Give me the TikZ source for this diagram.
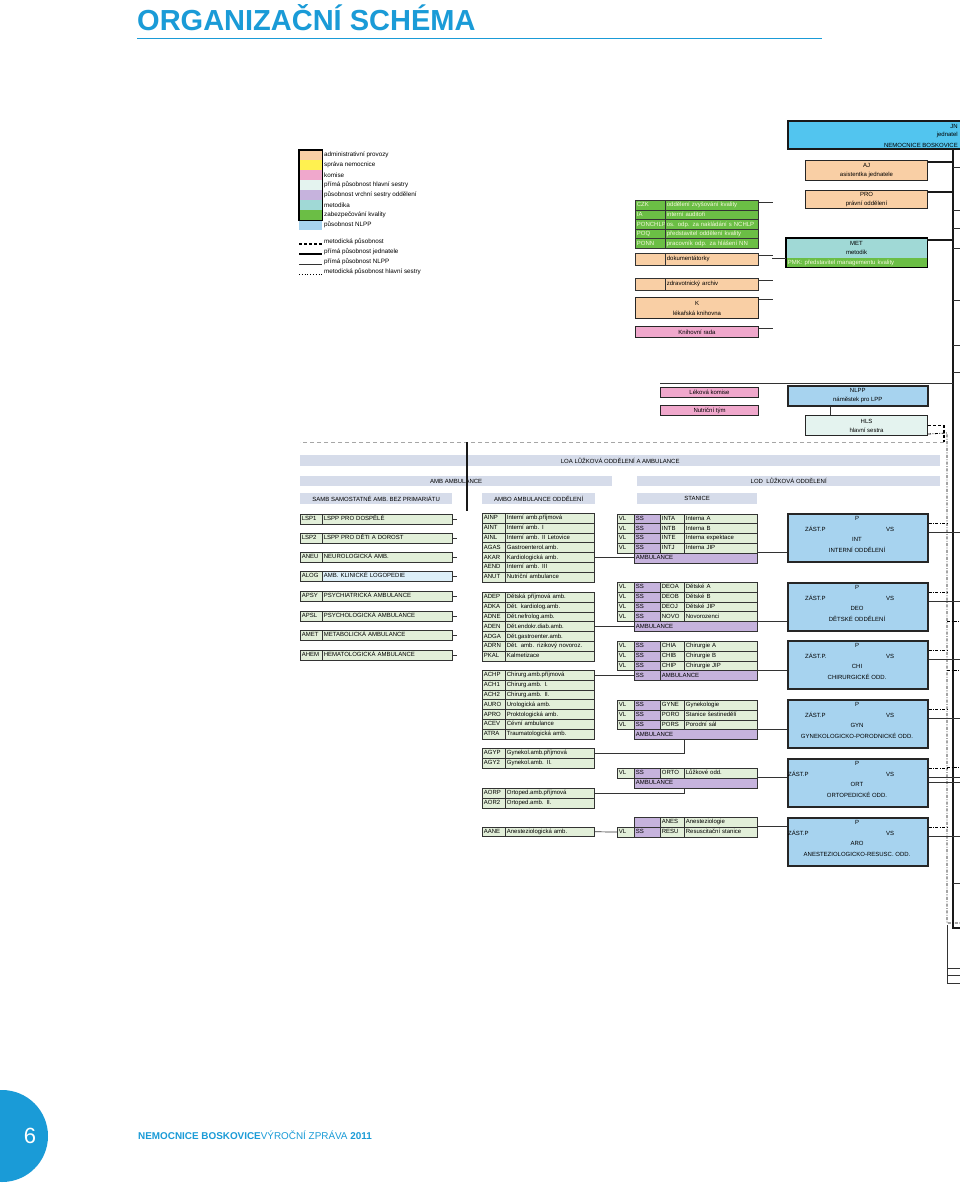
\documentclass[tikz,border=0pt]{standalone}
\usepackage{fontspec}
\setmainfont{Liberation Sans}
\usetikzlibrary{positioning, calc}

\definecolor{titleblue}{HTML}{1A9BD7}
\definecolor{peach}{HTML}{F9CFA5}
\definecolor{mgmtyellow}{HTML}{FFF150}
\definecolor{compink}{HTML}{F0A8CC}
\definecolor{hlsfill}{HTML}{E4F3EF}
\definecolor{lavender}{HTML}{C6B3DD}
\definecolor{metteal}{HTML}{A0D9D6}
\definecolor{qgreen}{HTML}{6BBE45}
\definecolor{qtext}{HTML}{F4F8DC}
\definecolor{pblue}{HTML}{A7D3EF}
\definecolor{jnblue}{HTML}{52C5EF}
\definecolor{rowgreen}{HTML}{E2EFD9}
\definecolor{barblue}{HTML}{D6DCEA}
\definecolor{alogblue}{HTML}{DDEFF8}

\newcommand{\tinyfont}{\fontsize{6}{7}\selectfont}
\newcommand{\legfont}{\fontsize{6.3}{7.5}\selectfont}

\tikzset{
  cell/.style={rectangle, draw=black!80, line width=0.7pt, fill=rowgreen,
    anchor=north west, inner xsep=1.5pt, inner ysep=0pt, minimum height=9.8pt,
    text height=4.3pt, text depth=1.2pt, font=\tinyfont, align=left, text width=#1},
  cell/.default=20pt,
  bar/.style={rectangle, fill=barblue, anchor=north west, minimum height=11pt,
    inner sep=0pt, font=\tinyfont},
  infobox/.style={rectangle, draw=black!85, line width=1pt, fill=peach,
    anchor=north west, inner sep=0pt, align=center, font=\tinyfont},
  pbox/.style={rectangle, draw=black!85, line width=1.5pt, fill=pblue,
    anchor=north west, minimum width=140pt, minimum height=48pt},
  ptext/.style={font=\tinyfont, inner sep=0pt},
  swatch/.style={rectangle, anchor=north west, minimum width=23pt,
    minimum height=10pt, inner sep=0pt},
  legtext/.style={anchor=west, inner sep=0pt, font=\legfont},
  thickline/.style={line width=1.6pt, black!90},
  thinline/.style={line width=0.7pt, black!80},
  methline/.style={line width=1.3pt, dash pattern=on 3pt off 2pt},
  nurseline/.style={line width=0.8pt, dash pattern=on 3pt off 1.5pt on 0.8pt off 1.5pt},
}

\begin{document}
\begin{tikzpicture}[x=1pt, y=-1pt]

  \useasboundingbox (0,0) rectangle (960,1184);
  \clip (0,0) rectangle (960,1184);
  \fill[white] (0,0) rectangle (960,1184);

  % Title
  \node[anchor=base west, inner sep=0pt, text=titleblue,
    font=\fontsize{29}{32}\selectfont\bfseries] (title) at (137,30) {ORGANIZAČNÍ SCHÉMA};
  \draw[titleblue, line width=1pt] (137,38) -- (822,38);

  % Legend
  \foreach \col/\txt [count=\i] in {peach/administrativní provozy,
      mgmtyellow/správa nemocnice, compink/komise,
      hlsfill/přímá působnost hlavní sestry,
      lavender/působnost vrchní sestry oddělení, metteal/metodika,
      qgreen/zabezpečování kvality, pblue/působnost NLPP} {
    \node[swatch, fill=\col] (leg-\i) at (299,{150+10*(\i-1)}) {};
    \node[legtext] (legt-\i) at (324,{155+10*(\i-1)}) {\txt};
  }
  \draw[line width=1.4pt] (leg-1.north west) rectangle (leg-7.south east);
  \draw[methline] (299,244) -- (322,244);
  \draw[line width=1.4pt] (299,254) -- (322,254);
  \draw[thinline] (299,264) -- (322,264);
  \draw[line width=0.8pt, dotted] (299,274) -- (322,274);
  \node[legtext] (legl-1) at (324,242) {metodická působnost};
  \node[legtext] (legl-2) at (324,252) {přímá působnost jednatele};
  \node[legtext] (legl-3) at (324,262) {přímá působnost NLPP};
  \node[legtext] (legl-4) at (324,272) {metodická působnost hlavní sestry};

  % Quality block and archive boxes
  \foreach \c/\t [count=\i] in {CZK/oddělení zvyšování kvality,
      IA/interní auditoři, PONCHLP/os. odp. za nakládání s NCHLP,
      POQ/představitel oddělení kvality, PONN/pracovník odp. za hlášení NN} {
    \node[cell=27pt, fill=qgreen, text=qtext] (q-\i) at (635,{200+9.6*(\i-1)}) {\c};
    \node[cell=90pt, fill=qgreen, text=qtext] (q-\i-t) at (665,{200+9.6*(\i-1)}) {\t};
  }
  \node[cell=27pt, fill=peach, minimum height=12pt] (dok-a) at (635,253) {};
  \node[cell=90pt, fill=peach, minimum height=12pt] (dok) at (665,253) {dokumentátorky};
  \node[cell=27pt, fill=peach, minimum height=12pt] (arch-a) at (635,278) {};
  \node[cell=90pt, fill=peach, minimum height=12pt] (arch) at (665,278) {zdravotnický archiv};
  \node[infobox, minimum width=123pt, minimum height=21pt] (kniha) at (635,297)
    {K\\[3pt]lékařská knihovna};
  \node[infobox, fill=compink, minimum width=123pt, minimum height=11pt] (rada) at (635,326)
    {Knihovní rada};
  \foreach \b in {q-1-t, dok, arch, kniha, rada}
    \draw[thinline] ([yshift=-2pt]\b.north east) -- ++(14,0);

  % Statutory body and staff
  \node[rectangle, draw=black!90, line width=1.6pt, fill=jnblue, anchor=north west,
    minimum width=343pt, minimum height=28pt] (jn) at (787,120) {};
  \node[ptext, anchor=east] (jn-1) at (958,126) {JN};
  \node[ptext, anchor=east] (jn-2) at (958,135) {jednatel};
  \node[ptext, anchor=east] (jn-3) at (958,145) {NEMOCNICE BOSKOVICE};
  \node[infobox, minimum width=122pt, minimum height=20pt] (aj) at (805,160)
    {AJ\\[2pt]asistentka jednatele};
  \node[infobox, minimum width=122pt, minimum height=18pt] (pro) at (805,190)
    {PRO\\[2pt]právní oddělení};
  \node[infobox, fill=metteal, line width=0pt, draw=none, minimum width=141pt,
    minimum height=20pt] (met) at (786,238) {MET\\[2pt]metodik};
  \node[cell=138pt, fill=qgreen, text=qtext, minimum height=9pt, draw=none] (pmk) at (786,258)
    {PMK: představitel managementu kvality};
  \draw[line width=1.5pt] (met.north west) rectangle (pmk.south east);
  \draw[thinline] (met.west |- pmk.north) -- ++(-14,0);

  % Trunk of the statutory body
  \coordinate (trunk-top) at (953,148);
  \coordinate (trunk-bot) at (953,928);
  \draw[thickline] (trunk-top) -- (trunk-bot) -- ++(10,0);
  \foreach \b in {aj, pro, met}
    \draw[thickline] ([yshift=-2pt]\b.north east) -- ([yshift=-2pt]\b.north east -| trunk-top);
  \foreach \yy in {167, 210, 228, 248, 300, 345, 372}
    \draw[thinline] (953,\yy) -- (962,\yy);

  % Commissions, deputy and head nurse
  \node[infobox, fill=compink, minimum width=98pt, minimum height=10pt] (lek) at (660,387)
    {Léková komise};
  \node[infobox, fill=compink, minimum width=98pt, minimum height=10pt] (nut) at (660,405)
    {Nutriční tým};
  \node[infobox, fill=pblue, line width=1.6pt, minimum width=140pt, minimum height=20pt]
    (nlpp) at (787,385) {NLPP\\[2pt]náměstek pro LPP};
  \node[infobox, fill=hlsfill, minimum width=122pt, minimum height=20pt] (hls) at (805,415)
    {HLS\\[2pt]hlavní sestra};
  \draw[thinline, line width=1pt] ([yshift=4pt]lek.north west) -- ([yshift=4pt]lek.north west -| trunk-top);
  \draw[thinline] ([xshift=-27pt]nlpp.south) -- ([xshift=-27pt]nlpp.south |- hls.north);

  \coordinate (meth-turn) at (944,442);
  \coordinate (meth-end) at (300,442);
  \coordinate (hs-top) at (947,433);
  \coordinate (hs-bot) at (947,923);
  \draw[methline] (hls.east) -| (meth-turn);
  \draw[black!35, line width=0.6pt, dash pattern=on 4pt off 3pt] (meth-turn) -- (meth-end);
  \draw[nurseline] ([yshift=2pt]hls.south east) -- (hs-top) -- (hs-bot) -- ++(14,0);

  % Section headers
  \node[bar, minimum width=640pt] (loa) at (300,455) {LOA LŮŽKOVÁ ODDĚLENÍ A AMBULANCE};
  \node[bar, minimum width=312pt, minimum height=10pt] (amb) at (300,476) {AMB AMBULANCE};
  \node[bar, minimum width=303pt, minimum height=10pt] (lod) at (637,476) {LOD~~LŮŽKOVÁ ODDĚLENÍ};
  \node[bar, minimum width=152pt] (samb) at (300,493) {SAMB SAMOSTATNÉ AMB. BEZ PRIMARIÁTU};
  \node[bar, minimum width=113pt] (ambo) at (482,493) {AMBO AMBULANCE ODDĚLENÍ};
  \node[bar, minimum width=120pt] (stanice) at (637,493) {STANICE};
  \draw[thickline] (467,442) -- (467,511);

  % Independent outpatient clinics
  \foreach \c/\t/\y in {LSP1/LSPP PRO DOSPĚLÉ/514, LSP2/LSPP PRO DĚTI A DOROST/533,
      ANEU/NEUROLOGICKÁ AMB./552, APSY/PSYCHIATRICKÁ AMBULANCE/591,
      APSL/PSYCHOLOGICKÁ AMBULANCE/611, AMET/METABOLICKÁ AMBULANCE/630,
      AHEM/HEMATOLOGICKÁ AMBULANCE/650} {
    \node[cell=19pt] (samb-\c) at (300,\y) {\c};
    \node[cell=127pt] (samb-\c-t) at (322,\y) {\t};
    \draw[thinline] (samb-\c-t.east) -- ++(4,0);
  }
  \node[cell=19pt] (samb-ALOG) at (300,571) {ALOG};
  \node[cell=127pt, fill=alogblue] (samb-ALOG-t) at (322,571) {AMB. KLINICKÉ LOGOPEDIE};
  \draw[thinline] (samb-ALOG-t.east) -- ++(4,0);

  % Department outpatient clinics
  \foreach \c/\t/\y in {AINP/Interní amb.příjmová/513, AINT/Interní amb. I/522.8,
      AINL/Interní amb. II Letovice/532.6, AGAS/Gastroenterol.amb./542.4,
      AKAR/Kardiologická amb./552.2, AEND/Interní amb. III/562,
      ANUT/Nutriční ambulance/571.8,
      ADEP/Dětská příjmová amb./592, ADKA/Dět. kardiolog.amb./601.8,
      ADNE/Dět.nefrolog.amb./611.6, ADEN/Dět.endokr.diab.amb./621.4,
      ADGA/Dět.gastroenter.amb./631.2, ADRN/Dět. amb. rizikový novoroz./641,
      PKAL/Kalmetizace/650.8,
      ACHP/Chirurg.amb.příjmová/670, ACH1/Chirurg.amb. I./679.8,
      ACH2/Chirurg.amb. II./689.6, AURO/Urologická amb./699.4,
      APRO/Proktologická amb./709.2, ACEV/Cévní ambulance/719,
      ATRA/Traumatologická amb./728.8,
      AGYP/Gynekol.amb.příjmová/748, AGY2/Gynekol.amb. II./757.8,
      AORP/Ortoped.amb.příjmová/788, AOR2/Ortoped.amb. II./797.8,
      AANE/Anesteziologická amb./826.5} {
    \node[cell=20pt] (ambo-\c) at (482,\y) {\c};
    \node[cell=86pt] (ambo-\c-t) at (505,\y) {\t};
  }

  % Wards
  \newcommand{\stanrow}[4]{%
    \node[cell=14pt] (#1-vl) at (617,#2) {VL};
    \node[cell=23pt, fill=lavender] (#1-ss) at (634,#2) {SS};
    \node[cell=21pt] (#1-code) at (660,#2) {#3};
    \node[cell=70pt] (#1-name) at (684,#2) {#4};
  }
  \stanrow{inta}{513.5}{INTA}{Interna A}
  \stanrow{intb}{523.3}{INTB}{Interna B}
  \stanrow{inte}{533.1}{INTE}{Interna expektace}
  \stanrow{intj}{542.9}{INTJ}{Interna JIP}
  \node[cell=120pt, fill=lavender] (int-amb) at (634,552.7) {AMBULANCE};

  \stanrow{deoa}{582}{DEOA}{Dětské A}
  \stanrow{deob}{591.8}{DEOB}{Dětské B}
  \stanrow{deoj}{601.6}{DEOJ}{Dětské JIP}
  \stanrow{novo}{611.4}{NOVO}{Novorozenci}
  \node[cell=120pt, fill=lavender] (deo-amb) at (634,621.2) {AMBULANCE};

  \stanrow{chia}{641}{CHIA}{Chirurgie A}
  \stanrow{chib}{650.8}{CHIB}{Chirurgie B}
  \stanrow{chip}{660.6}{CHIP}{Chirurgie JIP}
  \node[cell=23pt, fill=lavender] (chi-ss) at (634,670.4) {SS};
  \node[cell=94pt, fill=lavender] (chi-amb) at (660,670.4) {AMBULANCE};

  \stanrow{gyne}{700}{GYNE}{Gynekologie}
  \stanrow{poro}{709.8}{PORO}{Stanice šestinedělí}
  \stanrow{pors}{719.6}{PORS}{Porodní sál}
  \node[cell=120pt, fill=lavender] (gyn-amb) at (634,729.4) {AMBULANCE};

  \stanrow{orto}{768}{ORTO}{Lůžkové odd.}
  \node[cell=120pt, fill=lavender] (ort-amb) at (634,777.8) {AMBULANCE};

  \node[cell=23pt, fill=lavender] (anes-ss) at (634,817) {};
  \node[cell=21pt] (anes-code) at (660,817) {ANES};
  \node[cell=70pt] (anes-name) at (684,817) {Anesteziologie};
  \stanrow{resu}{826.8}{RESU}{Resuscitační stanice}

  % Primariate boxes
  \foreach \n/\y/\zx/\zt/\code/\title in {
      int/513/805/ZÁST.P/INT/INTERNÍ ODDĚLENÍ,
      deo/582/805/ZÁST.P/DEO/DĚTSKÉ ODDĚLENÍ,
      chi/640/805/ZÁST.P./CHI/CHIRURGICKÉ ODD.,
      gyn/699/805/ZÁST.P/GYN/GYNEKOLOGICKO-PORODNICKÉ  ODD.,
      ort/758/788/ZÁST.P/ORT/ORTOPEDICKÉ ODD.,
      aro/817/788/ZÁST.P/ARO/ANESTEZIOLOGICKO-RESUSC. ODD.} {
    \node[pbox] (\n-box) at (787,\y) {};
    \node[ptext] (\n-p) at (857,{\y+5}) {P};
    \node[ptext, anchor=west] (\n-zast) at (\zx,{\y+16}) {\zt};
    \node[ptext, anchor=west] (\n-vs) at (886,{\y+16}) {VS};
    \node[ptext] (\n-code) at (857,{\y+26}) {\code};
    \node[ptext] (\n-title) at (857,{\y+37}) {\title};
    \draw[nurseline] ([yshift=-10pt]\n-box.north east) -- ++(20,0);
    \draw[thinline, line width=1pt] ([yshift=-19pt]\n-box.north east) -- ++(35,0);
  }

  % Clinics to wards
  \draw[thinline] (ambo-AKAR-t.east) -- (ambo-AKAR-t.east -| int-amb.west);
  \draw[thinline] (ambo-ADEN-t.east) -- (ambo-ADEN-t.east -| deo-amb.west);
  \draw[thinline] (ambo-ACHP-t.east) -- (ambo-ACHP-t.east -| chi-ss.west);
  \draw[thinline] (ambo-AGYP-t.east) -| ([xshift=50pt]gyn-amb.south west);
  \draw[thinline] (ambo-AORP-t.east) -| ([xshift=50pt]ort-amb.south west);
  \draw[thinline] (ambo-AANE-t.east) -- (resu-vl.west);

  % Wards to primariates
  \draw[thinline] (int-amb.north east) -- (int-amb.north east -| int-box.west);
  \draw[thinline] (deo-amb.north east) -- (deo-amb.north east -| deo-box.west);
  \draw[thinline] (chi-amb.north east) -- (chi-amb.north east -| chi-box.west);
  \draw[thinline] (gyn-amb.north east) -- (gyn-amb.north east -| gyn-box.west);
  \draw[thinline] (ort-amb.north east) -- (ort-amb.north east -| ort-box.west);
  \draw[thinline] (resu-name.north east) -- (resu-name.north east -| aro-box.west);

  % Remaining branches at the page edge
  \foreach \yy in {621, 670, 767}
    \draw[nurseline] (947,\yy) -- (962,\yy);
  \draw[thinline, line width=1pt] (ort-box.east) -- ++(35,0);
  \draw[thinline] (953,883) -- (962,883);
  \draw[thinline, line width=1pt] (947,925) -- (947,983) -- (962,983);
  \draw[thinline] (947,968) -- (962,968);
  \draw[thinline] (947,975) -- (962,975);

  % Footer
  \node[circle, fill=titleblue, minimum size=92pt, inner sep=0pt] (badge) at (2,1136) {};
  \node[text=white, inner sep=0pt, font=\fontsize{22}{24}\selectfont] (pagenum) at (30,1136) {6};
  \node[anchor=west, inner sep=0pt, text=titleblue, font=\fontsize{9.9}{11}\selectfont]
    (footer) at (138,1135) {\textbf{NEMOCNICE BOSKOVICE}VÝROČNÍ ZPRÁVA \textbf{2011}};

\end{tikzpicture}
\end{document}
